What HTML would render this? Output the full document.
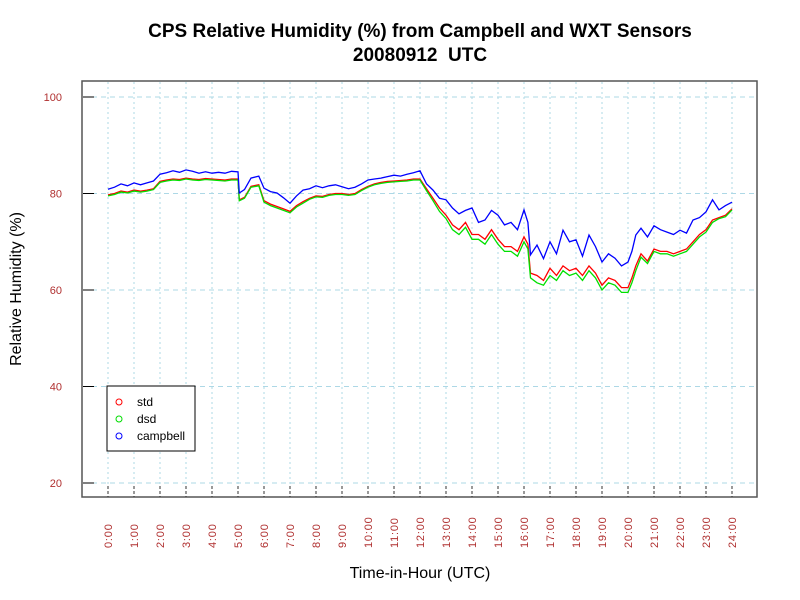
<!DOCTYPE html>
<html><head><meta charset="utf-8"><style>
body{margin:0;background:#fff;font-family:"Liberation Sans",sans-serif}
svg{display:block}
</style></head><body>
<svg id="chart" width="800" height="600" xmlns="http://www.w3.org/2000/svg">
<rect width="800" height="600" fill="#fff"/>
<text x="420" y="37" text-anchor="middle" font-size="19" font-weight="bold">CPS Relative Humidity (%) from Campbell and WXT Sensors</text>
<text x="420" y="61" text-anchor="middle" font-size="19" font-weight="bold">20080912&#160; UTC</text>
<g id="grid"></g>
<g id="series"></g>
<rect x="82" y="81" width="675" height="416" fill="none" stroke="#555" stroke-width="1.5"/>
<g id="axes"></g>
<text x="420" y="578" text-anchor="middle" font-size="16">Time-in-Hour (UTC)</text>
<text transform="translate(21,289) rotate(-90)" text-anchor="middle" font-size="16">Relative Humidity (%)</text>
<g>
<rect x="107" y="386" width="88" height="65" fill="#fff" stroke="#000" stroke-width="1"/>
<circle cx="119" cy="402" r="3" fill="none" stroke="red"/>
<text x="137" y="406" font-size="12">std</text>
<circle cx="119" cy="419" r="3" fill="none" stroke="#0d0"/>
<text x="137" y="423" font-size="12">dsd</text>
<circle cx="119" cy="436" r="3" fill="none" stroke="blue"/>
<text x="137" y="440" font-size="12">campbell</text>
</g>
</svg>
<script>
const times=[0,0.25,0.5,0.75,1,1.25,1.5,1.75,2,2.25,2.5,2.75,3,3.25,3.5,3.75,4,4.25,4.5,4.75,5,5.05,5.25,5.5,5.8,6,6.25,6.5,6.75,7,7.25,7.5,7.75,8,8.25,8.5,8.75,9,9.25,9.5,9.75,10,10.25,10.5,10.75,11,11.25,11.5,11.75,12,12.25,12.5,12.75,13,13.25,13.5,13.75,14,14.25,14.5,14.75,15,15.25,15.5,15.75,16,16.15,16.25,16.5,16.75,17,17.25,17.5,17.75,18,18.25,18.5,18.75,19,19.25,19.5,19.75,20,20.15,20.3,20.5,20.75,21,21.25,21.5,21.75,22,22.25,22.5,22.75,23,23.25,23.5,23.75,24];
const campbell=[80.9,81.3,82.0,81.6,82.2,81.8,82.2,82.6,84.0,84.3,84.7,84.4,84.9,84.6,84.2,84.5,84.2,84.4,84.2,84.6,84.5,80.1,80.8,83.2,83.6,81.1,80.4,80.1,79.1,78.0,79.5,80.7,81.0,81.6,81.2,81.6,81.8,81.4,81.0,81.3,82.0,82.8,83.0,83.2,83.5,83.8,83.6,84.0,84.3,84.7,82.0,80.7,79.0,78.7,77.0,75.8,76.5,77.0,74.0,74.5,76.5,75.5,73.5,74.0,72.5,76.6,74.0,67.3,69.3,66.5,70.0,67.5,72.4,70.0,70.4,67.0,71.4,69.0,65.8,67.5,66.6,65.0,65.8,68.0,71.4,72.8,71.0,73.3,72.5,72.0,71.5,72.4,71.8,74.5,75.0,76.2,78.7,76.6,77.5,78.2];
const std=[79.7,80.0,80.5,80.3,80.7,80.5,80.7,81.0,82.5,82.8,83.0,82.9,83.2,83.0,82.9,83.1,83.0,82.9,82.8,83.0,83.0,78.7,79.2,81.5,81.8,78.5,77.8,77.3,76.8,76.3,77.5,78.3,79.0,79.5,79.4,79.8,80.0,80.0,79.8,80.0,80.8,81.5,82.0,82.3,82.5,82.6,82.7,82.8,83.0,83.0,81.0,79.0,77.0,75.5,73.5,72.5,74.0,71.5,71.5,70.5,72.5,70.5,69.0,69.0,68.0,71.0,69.5,63.5,63.0,62.0,64.5,63.0,65.0,64.0,64.5,63.0,65.0,63.5,61.0,62.5,62.0,60.5,60.5,62.5,65.0,67.5,66.0,68.5,68.0,68.0,67.5,68.0,68.5,70.0,71.5,72.5,74.5,75.0,75.5,76.8];
const dsd=[79.5,79.8,80.3,80.1,80.5,80.3,80.5,80.8,82.3,82.6,82.8,82.7,83.0,82.8,82.7,82.9,82.8,82.7,82.6,82.8,82.8,78.5,79.0,81.3,81.6,78.2,77.5,77.0,76.5,76.0,77.2,78.0,78.8,79.3,79.2,79.6,79.8,79.8,79.6,79.8,80.6,81.3,81.8,82.1,82.3,82.4,82.5,82.6,82.8,82.8,80.6,78.5,76.3,74.8,72.5,71.5,73.0,70.5,70.5,69.5,71.5,69.5,68.0,68.0,67.0,70.0,68.5,62.5,61.5,61.0,63.0,62.0,64.0,63.0,63.5,62.0,64.0,62.5,60.0,61.5,61.0,59.5,59.5,61.5,64.0,66.8,65.5,68.0,67.5,67.5,67.0,67.5,68.0,69.5,71.0,72.0,74.0,74.8,75.2,76.6];
const yTicks=[20,40,60,80,100];
const xTickLabels=["0:00","1:00","2:00","3:00","4:00","5:00","6:00","7:00","8:00","9:00","10:00","11:00","12:00","13:00","14:00","15:00","16:00","17:00","18:00","19:00","20:00","21:00","22:00","23:00","24:00"];
const NS="http://www.w3.org/2000/svg";
function xs(h){return 108+h*26;}
function ys(v){return 97+(100-v)*4.825;}
const grid=document.getElementById('grid'),axes=document.getElementById('axes'),series=document.getElementById('series');
function mk(tag,attrs,parent){const e=document.createElementNS(NS,tag);for(const k in attrs)e.setAttribute(k,attrs[k]);parent.appendChild(e);return e;}
xTickLabels.forEach((lab,i)=>{
  const x=xs(i);
  const g=mk('line',{x1:x,x2:x,y1:82,y2:496,stroke:'#add8e6','stroke-dasharray':'2,3'},grid);
  
  
  const t=mk('line',{x1:x,x2:x,y1:486,y2:497,stroke:'#333','stroke-dasharray':'3,2'},axes);
  
  
  const tx=mk('text',{transform:`translate(${x+4},548) rotate(-90)`,'font-size':'11',fill:'#b03030','letter-spacing':'0.8'},axes);
  tx.textContent=lab;
  
  
});
yTicks.forEach(v=>{
  const y=ys(v);
  const g=mk('line',{x1:83,x2:756,y1:y,y2:y,stroke:'#add8e6','stroke-dasharray':'5,4'},grid);
  
  
  const t=mk('line',{x1:83,x2:94,y1:y,y2:y,stroke:'#000'},axes);
  
  
  const tx=mk('text',{x:62,y:y+4,'text-anchor':'end','font-size':'11',fill:'#b03030'},axes);
  tx.textContent=v;
  
  
});
[[std,'red','std-line'],[dsd,'#00e000','dsd-line'],[campbell,'blue','campbell-line']].forEach(([arr,c,n])=>{
  const p=mk('polyline',{points:arr.map((v,i)=>xs(times[i]).toFixed(1)+','+ys(v).toFixed(1)).join(' '),fill:'none',stroke:c,'stroke-width':'1.3'},series);
  
  
});
</script>
</body></html>
